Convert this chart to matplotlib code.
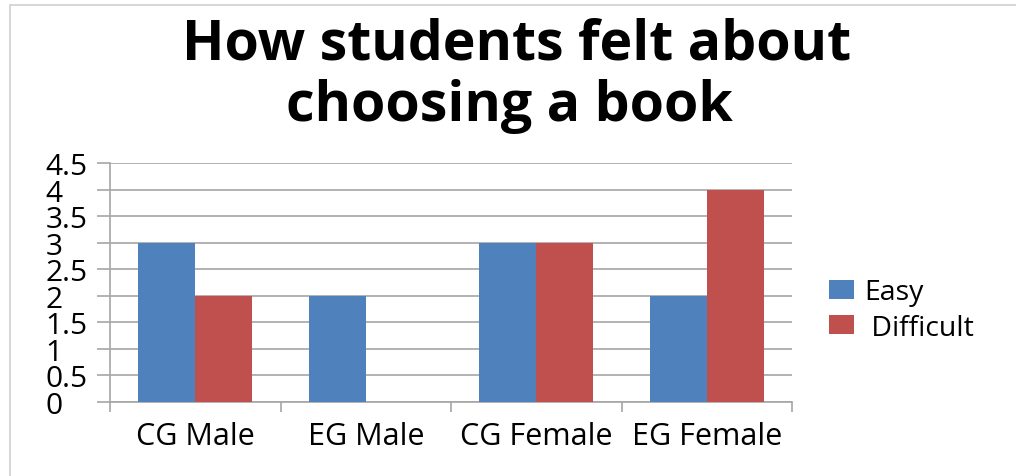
import numpy as np
import matplotlib
matplotlib.use('Agg')
import matplotlib.pyplot as plt
from matplotlib.patches import Rectangle

groups = ['CG Male', 'EG Male', 'CG Female', 'EG Female']
easy = [3, 2, 3, 2]
difficult = [2, 0, 3, 4]
yticks = [0, 0.5, 1, 1.5, 2, 2.5, 3, 3.5, 4, 4.5]
ytick_labels = ['0', '0.5', '1', '1.5', '2', '2.5', '3', '3.5', '4', '4.5']

blue = '#4F81BD'
red = '#C0504D'
grid_gray = '#A6A6A6'

plt.rcParams['font.family'] = ['Open Sans', 'DejaVu Sans']

fig = plt.figure(figsize=(10.16, 4.77), dpi=100)
W, H = 1016, 477

# chart frame (only top and left edges are visible)
fig.add_artist(Rectangle((10 / W, -0.1), 1.2, (H - 6) / H + 0.1,
                         transform=fig.transFigure, fill=False,
                         edgecolor='#D0D0D0', linewidth=1.2))

ax = fig.add_axes([110 / W, (H - 403) / H, (792 - 110) / W, (403 - 164) / H])

x = np.arange(len(groups))
w = 1 / 3
ax.bar(x - w / 2, easy, w, color=blue, label='Easy', zorder=3)
ax.bar(x + w / 2, difficult, w, color=red, label=' Difficult', zorder=3)

ax.set_xlim(-0.5, len(groups) - 0.5)
ax.set_ylim(0, 4.5)

ax.set_yticks(yticks)
ax.set_yticklabels(ytick_labels)
ax.yaxis.grid(True, color=grid_gray, linewidth=1.2, zorder=0)
ax.tick_params(axis='y', direction='out', length=9.5, width=1.2, color=grid_gray,
               labelsize=21.5, pad=37, labelcolor='black')
for lbl in ax.get_yticklabels():
    lbl.set_horizontalalignment('left')

ax.set_xticks(x)
ax.set_xticklabels(groups)
ax.set_xticks(np.arange(len(groups) + 1) - 0.5, minor=True)
ax.tick_params(axis='x', which='major', length=0, labelsize=22, pad=14)
ax.tick_params(axis='x', which='minor', direction='out', length=7.5, width=1.2,
               color=grid_gray)

for side in ['top', 'right']:
    ax.spines[side].set_visible(False)
for side in ['left', 'bottom']:
    ax.spines[side].set_color(grid_gray)
    ax.spines[side].set_linewidth(1.2)

fig.text(517 / W, 1 - 45 / H, 'How students felt about', ha='center', va='center',
         fontsize=40, fontweight='bold')
fig.text(509 / W, 1 - 106 / H, 'choosing a book', ha='center', va='center',
         fontsize=40, fontweight='bold')

ax.legend(loc='center left', bbox_to_anchor=(803 / W, 1 - 311 / H),
          bbox_transform=fig.transFigure, frameon=False, fontsize=20.5,
          handlelength=0.9, handleheight=0.65, handletextpad=0.35,
          labelspacing=0.25)

fig.savefig('out.png', dpi=100)
